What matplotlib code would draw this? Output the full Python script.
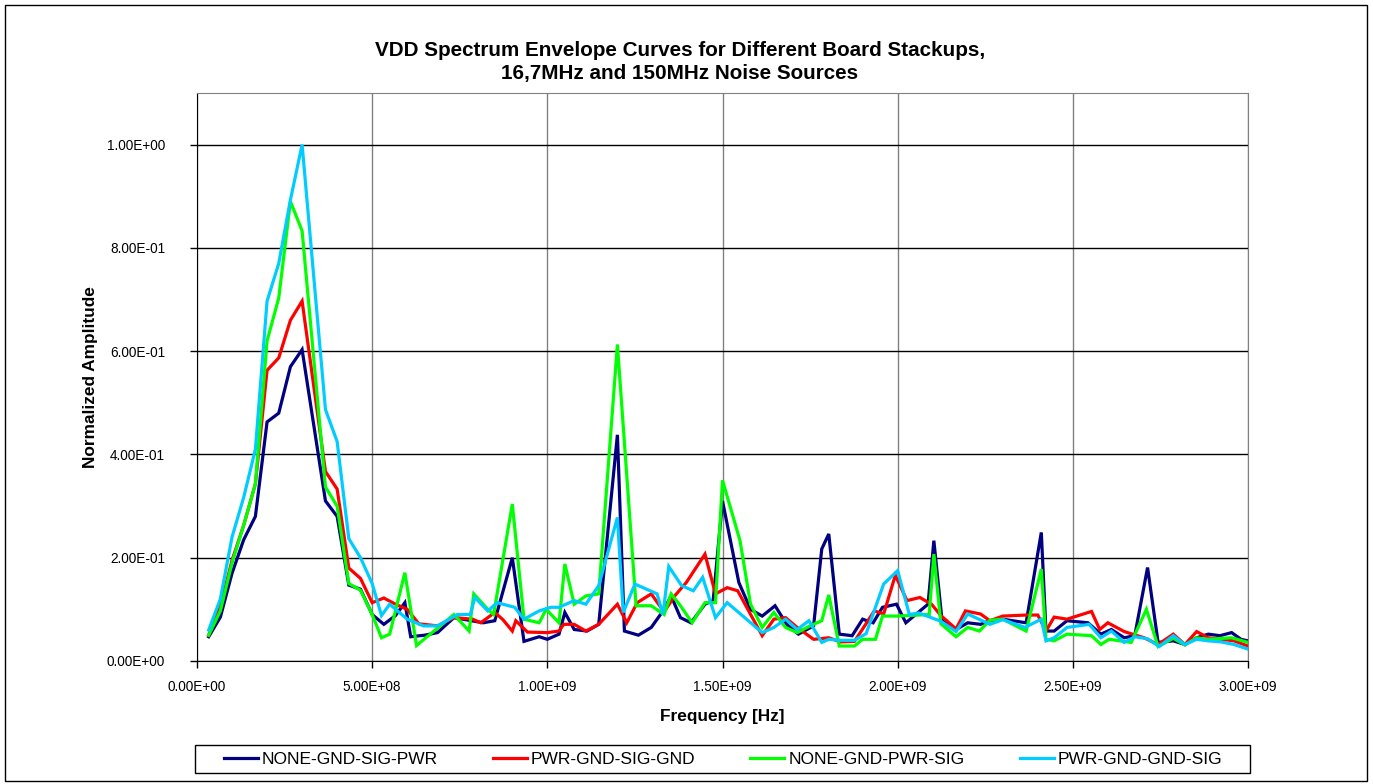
import matplotlib
matplotlib.use("Agg")
import matplotlib.pyplot as plt
from matplotlib.patches import Rectangle
from matplotlib.ticker import FuncFormatter, MultipleLocator

plt.rcParams["font.family"] = ["Liberation Sans", "DejaVu Sans"]

# frequency positions are read in units of the 33.3 MHz envelope step
STEP_HZ = 1e9 / 30

navy_bin = [1, 2, 3, 4, 5, 6, 7, 8, 9, 11, 12, 13, 14, 15, 16, 17, 17.8, 18.3, 19.5, 20.6,
            22, 23.5, 24.5, 25.5, 27, 28, 29.3, 30, 31, 31.5, 32.3, 33.4, 34.4, 36, 36.6, 37.8,
            38.9, 40, 40.6, 41.4, 42.3, 43.5, 44.2, 45, 46.4, 47.4, 48.4, 49.5, 50.5, 51.5,
            52.8, 53.5, 54.1, 55, 56.1, 57, 57.9, 58.7, 59.9, 60.7, 62.6, 63.1, 63.8, 65, 66,
            67.1, 67.9, 69, 71, 72.3, 72.7, 73.4, 74.5, 76.3, 77.4, 78.3, 79.4, 80.3, 81.4,
            82.3, 83.6, 84.6, 85.6, 86.6, 87.6, 88.6, 89.4, 90]
navy_amp = [0.047, 0.085, 0.17, 0.235, 0.28, 0.463, 0.48, 0.57, 0.603, 0.31, 0.28, 0.147,
            0.139, 0.09, 0.071, 0.088, 0.113, 0.047, 0.05, 0.055, 0.084, 0.078, 0.074, 0.078,
            0.2, 0.038, 0.047, 0.042, 0.052, 0.094, 0.061, 0.058, 0.071, 0.438, 0.058, 0.05,
            0.065, 0.1, 0.126, 0.084, 0.074, 0.11, 0.117, 0.31, 0.152, 0.1, 0.087, 0.107,
            0.071, 0.052, 0.068, 0.217, 0.246, 0.052, 0.049, 0.081, 0.074, 0.104, 0.11, 0.074,
            0.11, 0.233, 0.078, 0.061, 0.074, 0.071, 0.078, 0.081, 0.074, 0.249, 0.058, 0.058,
            0.078, 0.074, 0.052, 0.061, 0.045, 0.049, 0.181, 0.036, 0.039, 0.032, 0.045, 0.052,
            0.049, 0.055, 0.042, 0.039]

red_bin = [1, 2, 3, 4, 5, 6, 7, 8, 9, 11, 12, 13, 14, 15, 16, 17, 18, 19, 20.6, 22, 23.6,
           24.3, 25.5, 26.2, 27, 27.3, 28.3, 30, 31, 31.4, 32.3, 33.3, 34.4, 36, 36.8, 37.7,
           38.9, 40, 40.9, 41.9, 43.5, 44.4, 45.4, 46.3, 48.4, 49.4, 50.4, 51.4, 52.8, 54.1,
           55.1, 56.3, 57, 58, 58.8, 59.8, 60.8, 61.9, 62.9, 63.7, 65, 65.8, 67.1, 67.9, 69,
           71, 72, 72.7, 73.4, 74.5, 76.6, 77.3, 78, 79.4, 81.1, 82.3, 83.6, 84.6, 85.6, 86.6,
           87.7, 88.8, 90]
red_amp = [0.05, 0.105, 0.195, 0.263, 0.343, 0.563, 0.587, 0.66, 0.697, 0.367, 0.333, 0.18,
           0.16, 0.113, 0.122, 0.11, 0.1, 0.072, 0.068, 0.084, 0.081, 0.074, 0.094, 0.08,
           0.058, 0.078, 0.056, 0.055, 0.058, 0.071, 0.071, 0.058, 0.071, 0.11, 0.074, 0.113,
           0.13, 0.095, 0.126, 0.152, 0.207, 0.13, 0.142, 0.136, 0.049, 0.081, 0.084, 0.065,
           0.042, 0.045, 0.037, 0.038, 0.062, 0.097, 0.091, 0.166, 0.117, 0.123, 0.11, 0.088,
           0.062, 0.097, 0.091, 0.078, 0.087, 0.089, 0.089, 0.058, 0.085, 0.081, 0.096, 0.061,
           0.074, 0.057, 0.045, 0.032, 0.052, 0.032, 0.057, 0.045, 0.042, 0.039, 0.029]

green_bin = [1, 2, 3, 4, 5, 6, 7, 8, 9, 11, 12, 13, 14, 15, 15.8, 16.5, 17.8, 18.8, 22, 23.3,
             23.7, 24.9, 25.4, 27, 28, 29.3, 29.9, 31, 31.5, 32.3, 33.3, 34.4, 36, 37.6, 38.9,
             40, 40.6, 41.4, 42.4, 43.5, 44.4, 45, 46.5, 47.4, 48.4, 49.4, 50.4, 51.4, 52.5,
             53.5, 54.1, 55, 56.3, 57, 58.1, 58.7, 60, 62.7, 63.1, 63.7, 65, 66, 67, 67.9, 69,
             71, 72.3, 72.7, 73.4, 74.5, 76.6, 77.4, 78.1, 80, 81.3, 82.3, 83.6, 84.6, 85.6,
             86.6, 88.6, 90]
green_amp = [0.05, 0.097, 0.19, 0.263, 0.343, 0.62, 0.703, 0.89, 0.833, 0.337, 0.3, 0.15,
             0.137, 0.09, 0.045, 0.052, 0.171, 0.03, 0.09, 0.058, 0.13, 0.1, 0.09, 0.304,
             0.081, 0.074, 0.1, 0.074, 0.188, 0.11, 0.126, 0.13, 0.613, 0.107, 0.107, 0.09,
             0.13, 0.107, 0.074, 0.113, 0.113, 0.35, 0.233, 0.11, 0.065, 0.094, 0.065, 0.055,
             0.068, 0.078, 0.128, 0.029, 0.029, 0.042, 0.042, 0.087, 0.087, 0.09, 0.207, 0.072,
             0.047, 0.065, 0.058, 0.079, 0.081, 0.058, 0.178, 0.042, 0.039, 0.052, 0.049,
             0.032, 0.042, 0.036, 0.1, 0.028, 0.044, 0.031, 0.045, 0.042, 0.045, 0.036]

cyan_bin = [1, 2, 3, 4, 5, 6, 7, 8, 9, 11, 12, 13, 14, 15, 15.8, 16.5, 18, 19.4, 20.6, 22.3,
            23.4, 23.8, 24.9, 25.7, 27.2, 28, 29.3, 30.3, 31, 32.3, 33.3, 34.4, 36, 36.5, 37.5,
            38.2, 39.4, 39.9, 40.4, 41.5, 42.5, 43.3, 44.4, 45.4, 48.4, 49.4, 50.4, 51.4, 52.4,
            53.5, 54.1, 55.1, 56.3, 57.3, 58.8, 60, 61, 61.8, 63.7, 65, 66, 67.9, 69, 70.9,
            72.3, 72.7, 73.4, 74.5, 76.4, 77.4, 78.3, 79.4, 80.3, 81.4, 82.4, 83.6, 84.6, 85.6,
            86.6, 87.7, 88.8, 90]
cyan_amp = [0.06, 0.12, 0.24, 0.317, 0.41, 0.697, 0.77, 0.893, 1.0, 0.487, 0.425, 0.237,
            0.2, 0.15, 0.088, 0.11, 0.081, 0.068, 0.068, 0.09, 0.09, 0.123, 0.097, 0.113,
            0.104, 0.081, 0.097, 0.104, 0.104, 0.117, 0.11, 0.146, 0.278, 0.094, 0.149, 0.142,
            0.13, 0.09, 0.183, 0.146, 0.136, 0.162, 0.084, 0.113, 0.055, 0.065, 0.081, 0.061,
            0.078, 0.036, 0.042, 0.04, 0.04, 0.053, 0.149, 0.175, 0.09, 0.093, 0.077, 0.057,
            0.091, 0.071, 0.08, 0.065, 0.081, 0.039, 0.045, 0.065, 0.071, 0.045, 0.058, 0.036,
            0.047, 0.043, 0.028, 0.049, 0.032, 0.042, 0.039, 0.037, 0.032, 0.023]

series = [
    ("NONE-GND-SIG-PWR", navy_bin, navy_amp, "#000080"),
    ("PWR-GND-SIG-GND", red_bin, red_amp, "#FF0000"),
    ("NONE-GND-PWR-SIG", green_bin, green_amp, "#00FF00"),
    ("PWR-GND-GND-SIG", cyan_bin, cyan_amp, "#00CCFF"),
]

W, H = 1373, 784
fig = plt.figure(figsize=(W / 100, H / 100), dpi=100)
ax = fig.add_axes([197 / W, 1 - 661 / H, (1248 - 197) / W, (661 - 93) / H])

for name, b, a, c in series:
    ax.plot([k * STEP_HZ for k in b], a, color=c, lw=2.3, label=name, solid_joinstyle="miter")

ax.set_xlim(0, 3e9)
ax.set_ylim(0, 1.1)
ax.xaxis.set_major_locator(MultipleLocator(5e8))
ax.set_yticks([0, 0.2, 0.4, 0.6, 0.8, 1.0])
fmt = FuncFormatter(lambda v, p: f"{v:.2E}")
ax.xaxis.set_major_formatter(fmt)
ax.yaxis.set_major_formatter(fmt)
ax.tick_params(axis="both", direction="out", length=5, width=1, labelsize=9.8, colors="black")
ax.tick_params(axis="y", pad=18)
ax.tick_params(axis="x", pad=9)

ax.grid(axis="y", color="black", lw=1)
ax.grid(axis="x", color="#808080", lw=1)
ax.set_axisbelow(True)
for s in ("top", "right"):
    ax.spines[s].set_color("#808080")
for s in ("left", "bottom"):
    ax.spines[s].set_color("black")

ax.set_xlabel("Frequency [Hz]", fontsize=12.4, fontweight="bold")
ax.set_ylabel("Normalized Amplitude", fontsize=12.4, fontweight="bold")
ax.xaxis.set_label_coords(0.5, (661 - 709) / 568)
ax.yaxis.set_label_coords((98 - 197) / 1051, 0.5)

fig.text(680 / W, 1 - 62 / H,
         "VDD Spectrum Envelope Curves for Different Board Stackups,\n16,7MHz and 150MHz Noise Sources",
         ha="center", va="center", fontsize=14.9, fontweight="bold", linespacing=1.3)

# legend entries without frame, frame drawn as its own box
fs = 12.5
px = fs * 100 / 72
fig.legend(loc="center", ncol=4, bbox_to_anchor=(723 / W, 1 - 759 / H),
           fontsize=fs, handlelength=34 / px, handletextpad=4 / px,
           columnspacing=55 / px, frameon=False, borderpad=0, borderaxespad=0)
fig.patches.append(Rectangle((195 / W, 1 - 773 / H), (1250 - 195) / W, 28 / H,
                             transform=fig.transFigure, fill=False, edgecolor="black", lw=1))

fig.patches.append(Rectangle((5 / W, 3 / H), (1367 - 5) / W, (781 - 5) / H,
                             transform=fig.transFigure, fill=False, edgecolor="black", lw=1))

fig.savefig("out.png", dpi=100)
